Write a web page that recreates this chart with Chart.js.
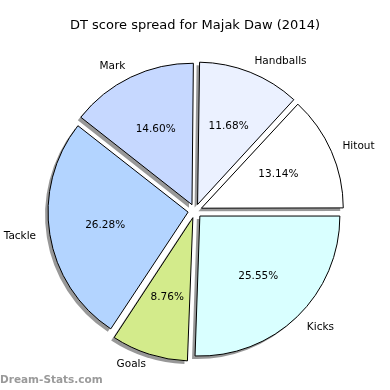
<!DOCTYPE html>
<html><head><meta charset="utf-8">
<script src="https://cdn.jsdelivr.net/npm/chart.js@4/dist/chart.umd.min.js"></script>
<style>html,body{margin:0;padding:0;background:#fff}canvas{display:block}</style>
</head><body>
<canvas id="c" width="390" height="390"></canvas>
<script>
const titleText = "DT score spread for Majak Daw (2014)";
const categories = ["Kicks", "Goals", "Tackle", "Mark", "Handballs", "Hitout"];
const percentages = [25.55, 8.76, 26.28, 14.60, 11.68, 13.14];
const sliceColors = ["#d9ffff", "#d3eb8b", "#b3d4ff", "#c6d8ff", "#ebf1ff", "#ffffff"];
const watermark = "Dream-Stats.com";

const FONT = '"DejaVu Sans", sans-serif';
const EXPLODE = 7;

const shadowPlugin = {
  id: 'shadowPlugin',
  beforeDatasetsDraw(chart) {
    const ctx = chart.ctx;
    ctx.save();
    ctx.shadowColor = 'rgba(50,50,50,0.5)';
    ctx.shadowOffsetX = -3;
    ctx.shadowOffsetY = 3;
    ctx.shadowBlur = 0;
    const orig = CanvasRenderingContext2D.prototype.stroke;
    ctx.stroke = function() {
      this.save();
      this.shadowColor = 'rgba(0,0,0,0)';
      orig.apply(this, arguments);
      this.restore();
    };
  },
  afterDatasetsDraw(chart) {
    const ctx = chart.ctx;
    delete ctx.stroke;
    ctx.restore();
  }
};

const labelPlugin = {
  id: 'labelPlugin',
  afterDraw(chart) {
    const ctx = chart.ctx;
    const meta = chart.getDatasetMeta(0);
    ctx.save();
    ctx.fillStyle = '#000';
    meta.data.forEach((arc, i) => {
      const p = arc.getProps(['x', 'y', 'startAngle', 'endAngle', 'outerRadius'], true);
      const mid = (p.startAngle + p.endAngle) / 2;
      const dx = Math.cos(mid), dy = Math.sin(mid);
      const cx = p.x + dx * EXPLODE, cy = p.y + dy * EXPLODE;
      const r = 140;
      ctx.font = '10.5px ' + FONT;
      ctx.textBaseline = 'middle';
      ctx.textAlign = 'center';
      ctx.fillText(percentages[i].toFixed(2) + '%', cx + dx * r * 0.6, cy + dy * r * 0.6);
      ctx.textAlign = dx > 0 ? 'left' : 'right';
      ctx.fillText(categories[i], cx + dx * r * 1.1, cy + dy * r * 1.1);
    });
    ctx.font = '13px ' + FONT;
    ctx.textAlign = 'center';
    ctx.textBaseline = 'middle';
    ctx.fillText(titleText, 195, 26);
    ctx.font = 'bold 10.5px ' + FONT;
    ctx.fillStyle = '#9a9a9a';
    ctx.textAlign = 'left';
    ctx.fillText(watermark, 0, 380);
    ctx.restore();
  }
};

new Chart(document.getElementById('c'), {
  type: 'pie',
  data: {
    labels: categories,
    datasets: [{
      data: percentages,
      backgroundColor: sliceColors,
      borderColor: '#000',
      borderWidth: 1,
      offset: EXPLODE * 4,
      hoverOffset: 0
    }]
  },
  options: {
    responsive: false,
    animation: false,
    events: [],
    rotation: 90,
    radius: 140,
    layout: { padding: { left: 20, right: 20, top: 52, bottom: 20 } },
    plugins: { legend: { display: false }, title: { display: false }, tooltip: { enabled: false } }
  },
  plugins: [shadowPlugin, labelPlugin]
});
</script>
</body></html>
